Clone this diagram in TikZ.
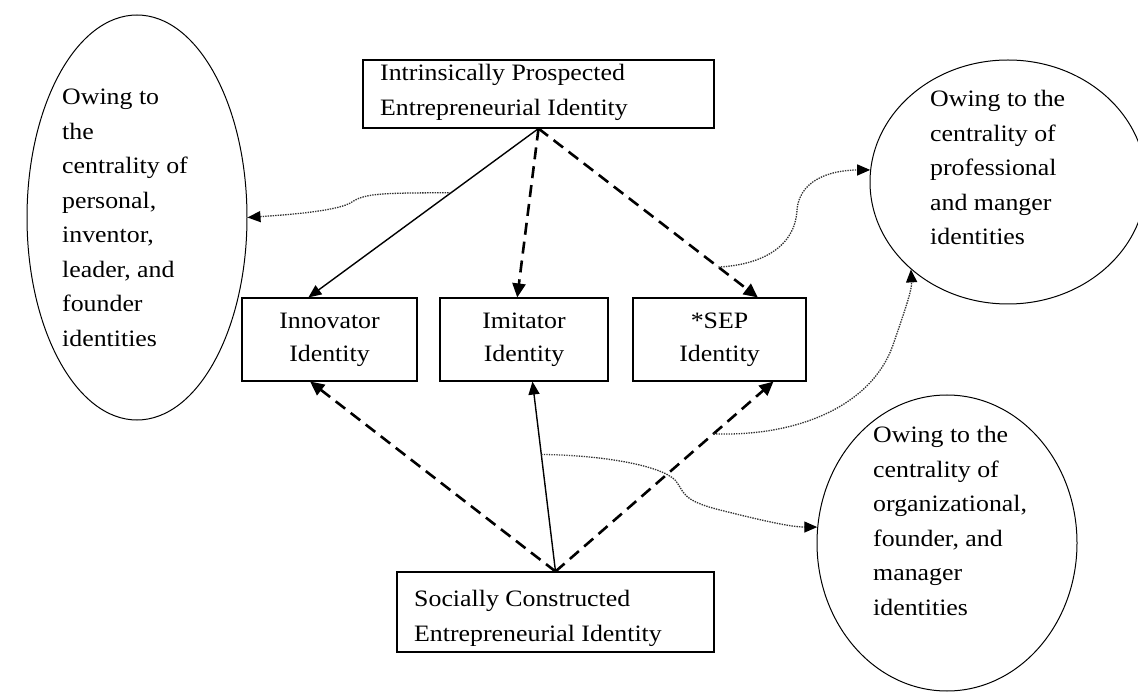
\documentclass[tikz,border=0pt]{standalone}
\usepackage{fontspec}
\setmainfont{Liberation Serif}[FakeStretch=1.1]
\usetikzlibrary{arrows.meta,shapes.geometric,calc}
\begin{document}
\begin{tikzpicture}[x=1pt,y=-1pt,
  box/.style={draw,line width=1.1pt,inner sep=0pt,align=center,font=\fontsize{23.5}{33}\selectfont},
  oval/.style={draw,ellipse,line width=1pt,inner sep=0pt},
  txt/.style={anchor=north west,inner sep=0pt,align=left,font=\fontsize{23.5}{34.5}\selectfont},
  solidarr/.style={line width=1.4pt,-{Triangle[length=13pt,width=11pt]}},
  dasharr/.style={line width=2.6pt,dash pattern=on 12pt off 7pt,-{Triangle[length=14pt,width=13pt]}},
  dotarr/.style={line width=1.3pt,black!80,dash pattern=on 1.4pt off 1.1pt,-{Triangle[length=13pt,width=11pt,color=black]}}
]
\useasboundingbox (0,0) rectangle (1138,692);

% boxes
\node[box,minimum width=351pt,minimum height=68pt] (top) at (538.5,94) {};
\node[txt] (toptxt) at (380,64) {Intrinsically Prospected\\Entrepreneurial Identity};
\node[box,minimum width=175pt,minimum height=83pt] (inno) at (329.5,339.5) {Innovator\\Identity};
\node[box,minimum width=168pt,minimum height=83pt] (imit) at (524,339.5) {Imitator\\Identity};
\node[box,minimum width=173pt,minimum height=83pt] (sep) at (719.5,339.5) {*SEP\\Identity};
\node[box,minimum width=317pt,minimum height=80pt] (bot) at (555.5,612) {};
\node[txt] (bottxt) at (414,590) {Socially Constructed\\Entrepreneurial Identity};

% ellipses
\node[oval,minimum width=220pt,minimum height=405pt] (le) at (137,217.5) {};
\node[txt] (letxt) at (62,89) {Owing to\\the\\centrality of\\personal,\\inventor,\\leader, and\\founder\\identities};
\node[oval,minimum width=276pt,minimum height=244pt] (rt) at (1008,182) {};
\node[txt] (rttxt) at (930,90) {Owing to the\\centrality of\\professional\\and manger\\identities};
\node[oval,minimum width=260pt,minimum height=296pt] (br) at (947,543) {};
\node[txt] (brtxt) at (873,426) {Owing to the\\centrality of\\organizational,\\founder, and\\manager\\identities};

% attachment points
\coordinate (innoN) at ($(inno.north west)!0.38!(inno.north east)$);
\coordinate (imitN) at ($(imit.north west)!0.46!(imit.north east)$);
\coordinate (sepN)  at ($(sep.north west)!0.72!(sep.north east)$);
\coordinate (innoS) at ($(inno.south west)!0.39!(inno.south east)$);
\coordinate (imitS) at ($(imit.south west)!0.55!(imit.south east)$);
\coordinate (sepS)  at ($(sep.south west)!0.81!(sep.south east)$);

% main connectors
\draw[solidarr] (top.south) -- (innoN);
\draw[dasharr] (top.south) -- (imitN);
\draw[dasharr] (top.south) -- (sepN);
\draw[dasharr] (bot.north) -- (innoS);
\draw[solidarr] (bot.north) -- (imitS);
\draw[dasharr] (bot.north) -- (sepS);

% points on connectors
\coordinate (p1) at ($(top.south)!0.38!(innoN)$);
\coordinate (p2) at ($(top.south)!0.82!(sepN)$);
\coordinate (p3) at ($(bot.north)!0.725!(sepS)$);
\coordinate (p4) at ($(bot.north)!0.616!(imitS)$);

% dotted connectors
\draw[dotarr] (p1) .. controls (385,193) and (365,193) .. (352,202)
  .. controls (340,210) and (300,214) .. (le.east);
\draw[dotarr] (p2) .. controls (760,265) and (795,248) .. (797,210)
  .. controls (800,175) and (840,170) .. (rt.175);
\draw[dotarr] (p3) .. controls (790,437) and (870,410) .. (893,345)
  .. controls (905,310) and (912,290) .. (rt.222);
\draw[dotarr] (p4) .. controls (600,455) and (660,465) .. (675,480)
  .. controls (685,492) and (680,500) .. (720,510)
  .. controls (760,520) and (790,527) .. (br.173);
\end{tikzpicture}
\end{document}
